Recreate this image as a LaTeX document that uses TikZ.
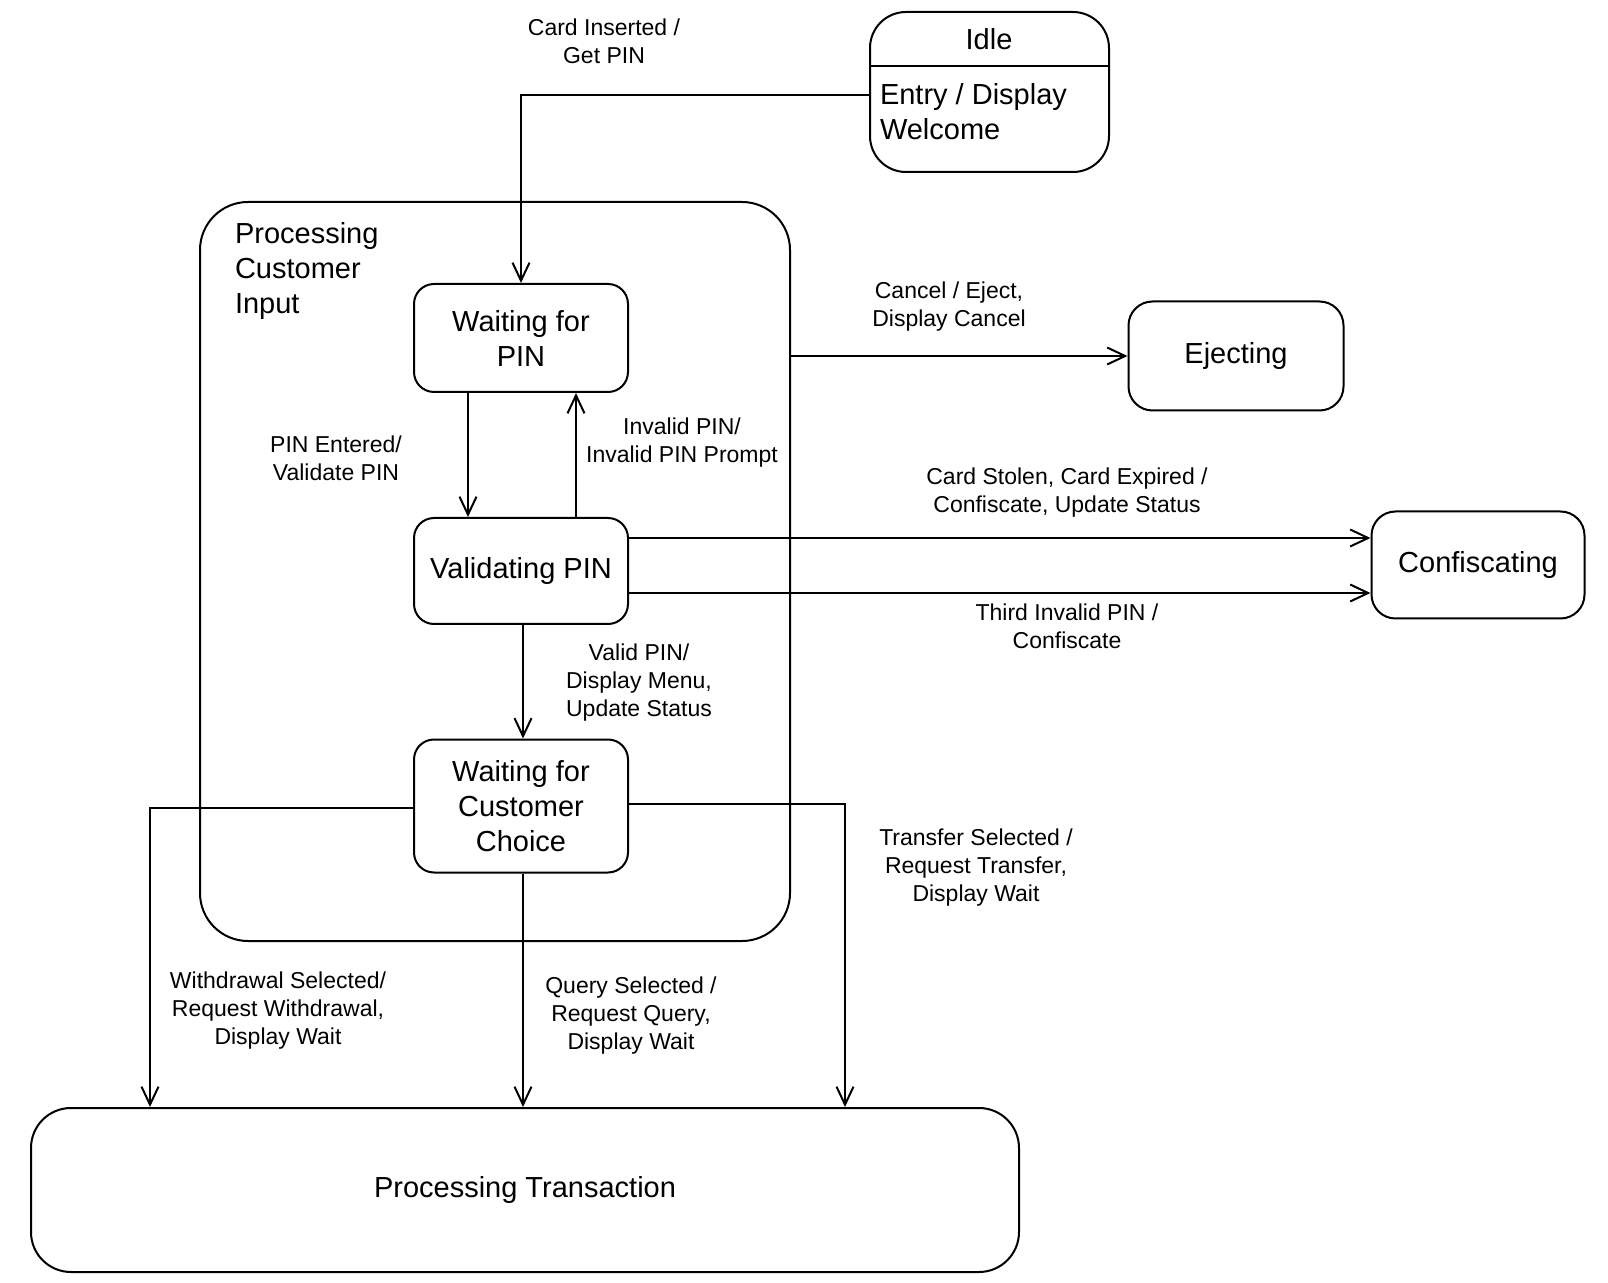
\documentclass[tikz,border=0pt]{standalone}
\usepackage{fontspec}
\setmainfont{Liberation Sans}
\usetikzlibrary{arrows.meta}
\begin{document}
\begin{tikzpicture}[x=0.5pt,y=-0.5pt,
  line width=1pt,
  statebox/.style={draw, rounded corners=10pt, align=center, inner sep=0pt,
    font=\fontsize{14.5}{17.5}\selectfont},
  lbl/.style={align=center, inner sep=0pt, font=\fontsize{11.5}{14}\selectfont},
  arr/.style={-{Straight Barb[length=9pt,width=8.5pt]}}
]
\useasboundingbox (0,0) rectangle (1608,1283);

% states
\node[statebox, rounded corners=18pt, minimum width=119.5pt, minimum height=80pt] (idle) at (989.5,92) {};
\coordinate (divy) at (0,66);
\draw (idle.west |- divy) -- (idle.east |- divy);
\node[lbl, font=\fontsize{14.5}{17.5}\selectfont] (idlename) at (989,39) {Idle};
\node[lbl, font=\fontsize{14.5}{17.5}\selectfont, align=left, anchor=west] (idleentry) at (879,112) {Entry / Display\\Welcome};

\node[statebox, rounded corners=24pt, minimum width=295pt, minimum height=369.5pt] (pci) at (495,571.5) {};
\node[lbl, font=\fontsize{14.5}{17.5}\selectfont, align=left, anchor=north west] (pcititle) at (234,221) {Processing\\Customer\\Input};

\node[statebox, minimum width=107pt, minimum height=54pt] (wfp) at (521,338) {Waiting for\\PIN};
\node[statebox, minimum width=107pt, minimum height=53pt] (vp) at (521,571) {Validating PIN};
\node[statebox, minimum width=107pt, minimum height=66.5pt] (wfcc) at (521,806) {Waiting for\\Customer\\Choice};
\node[statebox, rounded corners=12pt, minimum width=107.5pt, minimum height=54.5pt] (ej) at (1236,356) {Ejecting};
\node[statebox, rounded corners=12pt, minimum width=106.5pt, minimum height=53.5pt] (conf) at (1478,565) {Confiscating};
\node[statebox, rounded corners=20pt, minimum width=494pt, minimum height=82pt] (pt) at (525,1190) {Processing Transaction};

% helper coordinates for connector routes
\coordinate (cins) at (0,95);
\coordinate (dnx) at (468,0);
\coordinate (upx) at (576,0);
\coordinate (okx) at (523,0);
\coordinate (stoleny) at (0,538);
\coordinate (thirdy) at (0,593);
\coordinate (wdy) at (0,808);
\coordinate (wdx) at (150,0);
\coordinate (try) at (0,804);
\coordinate (trx) at (845,0);

% transitions
\draw[arr] (idle.west |- cins) -| (wfp.north);
\draw[arr] (wfp.south -| dnx) -- (vp.north -| dnx);
\draw[arr] (vp.north -| upx) -- (wfp.south -| upx);
\draw[arr] (vp.south -| okx) -- (wfcc.north -| okx);
\draw[arr] (pci.east |- ej.west) -- (ej.west);
\draw[arr] (vp.east |- stoleny) -- (conf.west |- stoleny);
\draw[arr] (vp.east |- thirdy) -- (conf.west |- thirdy);
\draw[arr] (wfcc.west |- wdy) -| (pt.north -| wdx);
\draw[arr] (wfcc.south -| okx) -- (pt.north -| okx);
\draw[arr] (wfcc.east |- try) -| (pt.north -| trx);

% transition labels
\node[lbl] (lcins) at (604,41.5) {Card Inserted /\\Get PIN};
\node[lbl] (lpin) at (336,458) {PIN Entered/\\Validate PIN};
\node[lbl] (linv) at (682,442.5) {Invalid PIN/\\Invalid PIN Prompt};
\node[lbl] (lok) at (639,683) {Valid PIN/\\Display Menu,\\Update Status};
\node[lbl] (lcancel) at (949,307) {Cancel / Eject,\\Display Cancel};
\node[lbl] (lstolen) at (1067,493) {Card Stolen, Card Expired /\\Confiscate, Update Status};
\node[lbl] (lthird) at (1067,626.5) {Third Invalid PIN /\\Confiscate};
\node[lbl] (lwd) at (278,1011) {Withdrawal Selected/\\Request Withdrawal,\\Display Wait};
\node[lbl] (lqry) at (631,1016) {Query Selected /\\Request Query,\\Display Wait};
\node[lbl] (ltr) at (976,868) {Transfer Selected /\\Request Transfer,\\Display Wait};
\end{tikzpicture}
\end{document}
